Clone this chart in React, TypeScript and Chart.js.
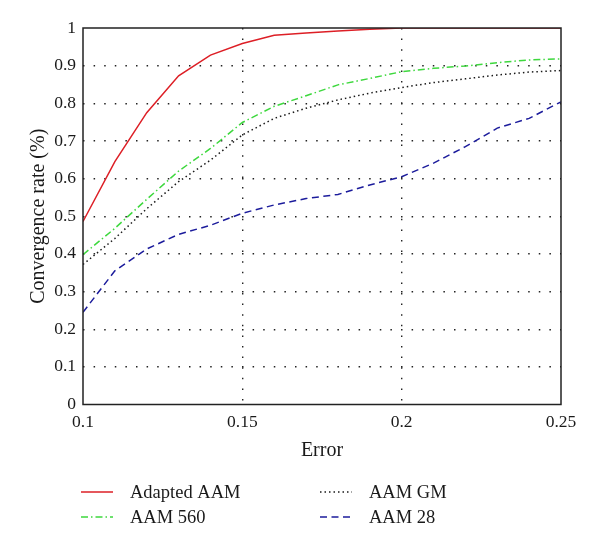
import React, { useEffect, useRef } from 'react';
import { Chart, registerables } from 'chart.js';

Chart.register(...registerables);

// ---- Data ----
const errorValues = [0.10, 0.11, 0.12, 0.13, 0.14, 0.15, 0.16, 0.17, 0.18, 0.19, 0.20, 0.21, 0.22, 0.23, 0.24, 0.25];
const adaptedAAM = [0.486, 0.645, 0.775, 0.873, 0.928, 0.959, 0.981, 0.987, 0.992, 0.997, 1.0, 1.0, 1.0, 1.0, 1.0, 1.0];
const aam560 = [0.398, 0.468, 0.545, 0.62, 0.68, 0.749, 0.792, 0.82, 0.849, 0.866, 0.884, 0.893, 0.899, 0.908, 0.915, 0.918];
const aamGM = [0.372, 0.441, 0.52, 0.592, 0.649, 0.716, 0.76, 0.787, 0.809, 0.827, 0.842, 0.855, 0.865, 0.875, 0.883, 0.887];
const aam28 = [0.245, 0.355, 0.413, 0.452, 0.476, 0.508, 0.53, 0.547, 0.558, 0.583, 0.605, 0.641, 0.685, 0.734, 0.76, 0.804];

const seriesNames = ['Adapted AAM', 'AAM 560', 'AAM GM', 'AAM 28'];
const xTickValues = [0.1, 0.15, 0.2, 0.25];
const xTitle = 'Error';
const yTitle = 'Convergence rate (%)';

const FONT = "'Liberation Serif', 'DejaVu Serif', serif";

const toPoints = (ys: number[]) => errorValues.map((x, i) => ({ x, y: ys[i] }));

const framePlugin = {
  id: 'frame',
  afterDatasetsDraw(chart: any) {
    const { ctx, chartArea } = chart;
    ctx.save();
    ctx.strokeStyle = '#222';
    ctx.lineWidth = 1.5;
    ctx.setLineDash([]);
    ctx.strokeRect(chartArea.left, chartArea.top, chartArea.right - chartArea.left, chartArea.bottom - chartArea.top);
    ctx.restore();
  },
};

const legendPlugin = {
  id: 'customLegend',
  afterDraw(chart: any) {
    const { ctx } = chart;
    const colX = [81, 320];
    const rowY = [492, 517];
    ctx.save();
    chart.data.datasets.forEach((ds: any, i: number) => {
      const col = Math.floor(i / 2);
      const row = i % 2;
      const x0 = colX[col];
      const y = rowY[row];
      ctx.beginPath();
      ctx.strokeStyle = ds.borderColor;
      ctx.lineWidth = ds.borderWidth;
      ctx.setLineDash(ds.borderDash || []);
      ctx.moveTo(x0, y);
      ctx.lineTo(x0 + 32, y);
      ctx.stroke();
      ctx.setLineDash([]);
      ctx.fillStyle = '#1a1a1a';
      ctx.font = `18.5px ${FONT}`;
      ctx.textBaseline = 'middle';
      ctx.textAlign = 'left';
      ctx.fillText(ds.label, x0 + 49, y + 1);
    });
    ctx.restore();
  },
};

export default function App() {
  const canvasRef = useRef<HTMLCanvasElement | null>(null);

  useEffect(() => {
    if (!canvasRef.current) return;
    const gridDash = [1.5, 9.1];
    const chart = new Chart(canvasRef.current, {
      type: 'line',
      data: {
        datasets: [
          {
            label: seriesNames[0],
            data: toPoints(adaptedAAM),
            borderColor: '#dd1f26',
            borderWidth: 1.5,
            pointRadius: 0,
            tension: 0,
          },
          {
            label: seriesNames[1],
            data: toPoints(aam560),
            borderColor: '#3ed83e',
            borderWidth: 1.5,
            borderDash: [7, 3, 1.5, 3],
            pointRadius: 0,
            tension: 0,
          },
          {
            label: seriesNames[2],
            data: toPoints(aamGM),
            borderColor: '#1a1a1a',
            borderWidth: 1.5,
            borderDash: [1.5, 3],
            pointRadius: 0,
            tension: 0,
          },
          {
            label: seriesNames[3],
            data: toPoints(aam28),
            borderColor: '#1c1c9c',
            borderWidth: 1.5,
            borderDash: [7, 4.5],
            pointRadius: 0,
            tension: 0,
          },
        ],
      },
      options: {
        responsive: false,
        animation: false,
        layout: { padding: { left: 0, top: 28, right: 39, bottom: 81 } },
        plugins: {
          legend: { display: false },
          tooltip: { enabled: false },
        },
        scales: {
          x: {
            type: 'linear',
            min: 0.1,
            max: 0.25,
            afterFit(scale: any) {
              scale.height = 58.5;
            },
            afterBuildTicks(scale: any) {
              scale.ticks = xTickValues.map((v) => ({ value: v }));
            },
            ticks: {
              color: '#1a1a1a',
              font: { family: FONT, size: 17.5 },
              padding: 7,
              maxRotation: 0,
              callback: (v: any) => String(Number(v)),
            },
            grid: {
              color: (c: any) => (c.tick && (c.tick.value === 0.1 || c.tick.value === 0.25) ? 'rgba(0,0,0,0)' : '#222'),
              lineWidth: 1.4,
              drawTicks: false,
            },
            border: { display: false, dash: gridDash },
            title: {
              display: true,
              text: xTitle,
              color: '#1a1a1a',
              font: { family: FONT, size: 20 },
              padding: { top: 0, bottom: 0 },
            },
          },
          y: {
            type: 'linear',
            min: 0,
            max: 1,
            afterFit(scale: any) {
              scale.width = 83;
            },
            ticks: {
              stepSize: 0.1,
              color: '#1a1a1a',
              font: { family: FONT, size: 17.5 },
              padding: 7,
              callback: (v: any) => String(Math.round(Number(v) * 10) / 10),
            },
            grid: {
              color: (c: any) => (c.tick && (c.tick.value <= 0.0001 || c.tick.value >= 0.9999) ? 'rgba(0,0,0,0)' : '#222'),
              lineWidth: 1.4,
              drawTicks: false,
            },
            border: { display: false, dash: gridDash },
            title: {
              display: true,
              text: yTitle,
              color: '#1a1a1a',
              font: { family: FONT, size: 20 },
              padding: { top: 27, bottom: 0 },
            },
          },
        },
      },
      plugins: [framePlugin, legendPlugin],
    });
    return () => chart.destroy();
  }, []);

  return (
    <div style={{ position: 'absolute', left: 0, top: 0, width: 600, height: 544, background: '#fff' }}>
      <canvas ref={canvasRef} width={600} height={544} />
    </div>
  );
}
